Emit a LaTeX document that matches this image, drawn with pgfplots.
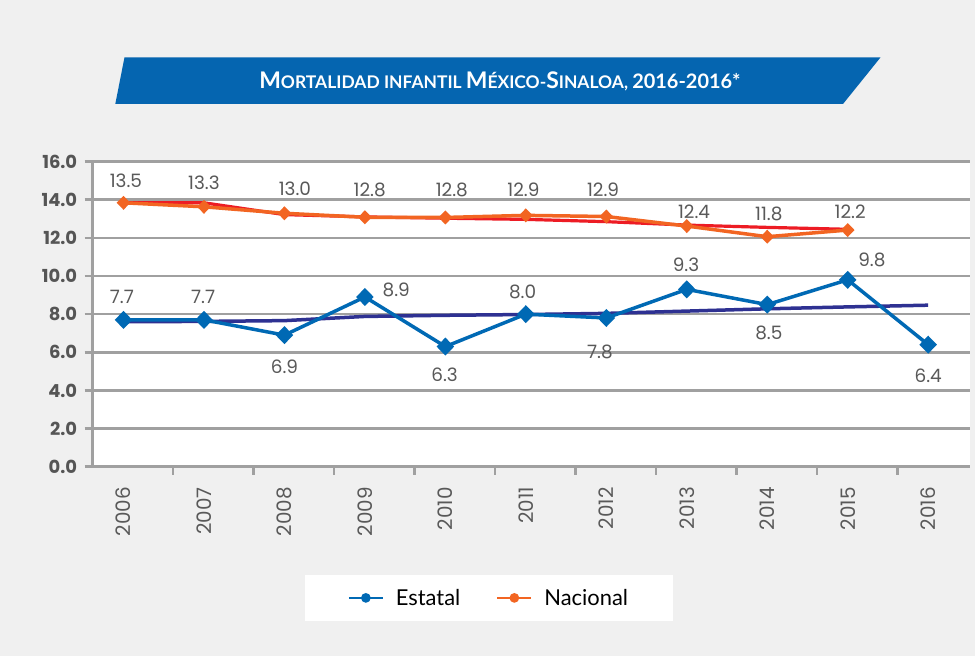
\documentclass[border=0pt]{standalone}
\usepackage{fontspec}
\setmainfont{Lato}
\newfontfamily\popp{Poppins}
\usepackage{pgfplots}
\pgfplotsset{compat=1.18}
\definecolor{bg}{HTML}{F0F0F0}
\definecolor{estblue}{HTML}{0069B4}
\definecolor{nacorange}{HTML}{F26522}
\definecolor{trendred}{HTML}{ED1C24}
\definecolor{trendnavy}{HTML}{2E3192}
\definecolor{gridgray}{HTML}{A0A0A0}
\definecolor{banner}{HTML}{0565B0}
\definecolor{labgray}{HTML}{595959}
\definecolor{tickgray}{HTML}{555555}
\begin{document}
\begin{tikzpicture}
\fill[bg] (0bp,0bp) rectangle (975bp,656bp);
\path[use as bounding box] (0bp,0bp) rectangle (975bp,656bp);
\fill[banner] (124.5bp,598.7bp) -- (880.6bp,598.7bp) -- (843bp,552bp) -- (115.3bp,552bp) -- cycle;
\node[text=white, font=\bfseries, inner sep=0pt] at (500bp,575bp)
  {{\fontsize{23}{23}\selectfont M}{\fontsize{17.5}{17.5}\selectfont ORTALIDAD INFANTIL }{\fontsize{23}{23}\selectfont M}{\fontsize{17.5}{17.5}\selectfont ÉXICO-}{\fontsize{23}{23}\selectfont S}{\fontsize{17.5}{17.5}\selectfont INALOA, }{\fontsize{20}{20}\selectfont 2016-2016*}};
\fill[white] (305bp,35.3bp) rectangle (673bp,81bp);
\begin{axis}[
  at={(92.7bp,189.3bp)}, anchor=south west,
  scale only axis, width=877.3bp, height=305.1bp,
  xmin=-0.383, xmax=10.52, ymin=0, ymax=16,
  axis lines*=left,
  axis line style={gridgray, line width=2.5bp},
  axis background/.style={fill=white},
  clip=false,
  xtick={0.617,1.617,2.617,3.617,4.617,5.617,6.617,7.617,8.617,9.617},
  xticklabels={},
  extra x ticks={0,1,2,3,4,5,6,7,8,9,10},
  extra x tick labels={2006,2007,2008,2009,2010,2011,2012,2013,2014,2015,2016},
  extra x tick style={major tick length=0pt, tick style={draw=none}},
  major tick length=8bp,
  tick align=outside,
  every tick/.style={gridgray, line width=2.5bp},
  ytick={0,2,...,16},
  ymajorgrids,
  major grid style={gridgray, line width=2.5bp},
  /pgf/number format/assume math mode=true,
  yticklabel={\pgfmathprintnumber[fixed,fixed zerofill,precision=1]{\tick}},
  yticklabel style={font=\popp\bfseries\fontsize{18}{18}\selectfont, text=tickgray, xshift=-4bp},
  xticklabel style={font=\popp\fontsize{20}{20}\selectfont, text=labgray, rotate=90, anchor=east},
  xticklabel shift=17bp,
  legend style={at={(0.4517,-0.430)}, anchor=center, draw=none, fill=none,
    legend columns=2, font=\fontsize{22}{22}\selectfont,
    /tikz/every odd column/.append style={column sep=10bp},
    /tikz/every even column/.append style={column sep=34bp}},
  legend cell align=left,
]
% trend lines
\addplot[trendnavy, line width=3.5bp, forget plot] coordinates {
(0,7.60) (1,7.62) (2,7.66) (3,7.88) (4,7.94) (5,7.98) (6,8.04) (7,8.16) (8,8.28) (9,8.38) (10,8.47)};
\addplot[trendred, line width=3.2bp, forget plot] coordinates {
(0,13.84) (1,13.84) (2,13.22) (3,13.10) (4,13.03) (5,12.97) (6,12.85) (7,12.67) (8,12.55) (9,12.45)};
% series
\addplot[estblue, line width=3.5bp, mark=diamond*, mark size=6.5bp, mark options={xscale=1.3, solid},
  legend image code/.code={\draw[estblue, line width=2bp] (0bp,0bp) -- (34bp,0bp); \fill[estblue] (17bp,0bp) circle (3bp);}]
  coordinates {(0,7.7) (1,7.7) (2,6.9) (3,8.9) (4,6.3) (5,8.0) (6,7.8) (7,9.3) (8,8.5) (9,9.8) (10,6.4)};
\addlegendentry{Estatal}
\addplot[nacorange, line width=3.5bp, mark=diamond*, mark size=4.5bp, mark options={xscale=1.3, solid},
  legend image code/.code={\draw[nacorange, line width=2bp] (0bp,0bp) -- (34bp,0bp); \fill[nacorange] (17bp,0bp) circle (3bp);}]
  coordinates {(0,13.84) (1,13.63) (2,13.29) (3,13.08) (4,13.07) (5,13.18) (6,13.12) (7,12.62) (8,12.06) (9,12.41)};
\addlegendentry{Nacional}
% data labels
\begin{scope}[every node/.style={font=\popp\fontsize{18.5}{18.5}\selectfont, text=labgray}]
\node at (axis cs:0.03,14.97) {13.5};
\node at (axis cs:1.0,14.88) {13.3};
\node at (axis cs:2.13,14.6) {13.0};
\node at (axis cs:3.06,14.51) {12.8};
\node at (axis cs:4.08,14.51) {12.8};
\node at (axis cs:4.97,14.51) {12.9};
\node at (axis cs:5.96,14.51) {12.9};
\node at (axis cs:7.09,13.37) {12.4};
\node at (axis cs:8.02,13.25) {11.8};
\node at (axis cs:9.03,13.36) {12.2};
\node at (axis cs:-0.02,8.92) {7.7};
\node at (axis cs:0.99,8.92) {7.7};
\node at (axis cs:2.0,5.24) {6.9};
\node at (axis cs:3.39,9.27) {8.9};
\node at (axis cs:3.99,4.81) {6.3};
\node at (axis cs:4.96,9.18) {8.0};
\node at (axis cs:5.92,6.01) {7.8};
\node at (axis cs:6.99,10.58) {9.3};
\node at (axis cs:8.02,7.0) {8.5};
\node at (axis cs:9.3,10.84) {9.8};
\node at (axis cs:10.0,4.75) {6.4};
\end{scope}
\end{axis}
\end{tikzpicture}
\end{document}
